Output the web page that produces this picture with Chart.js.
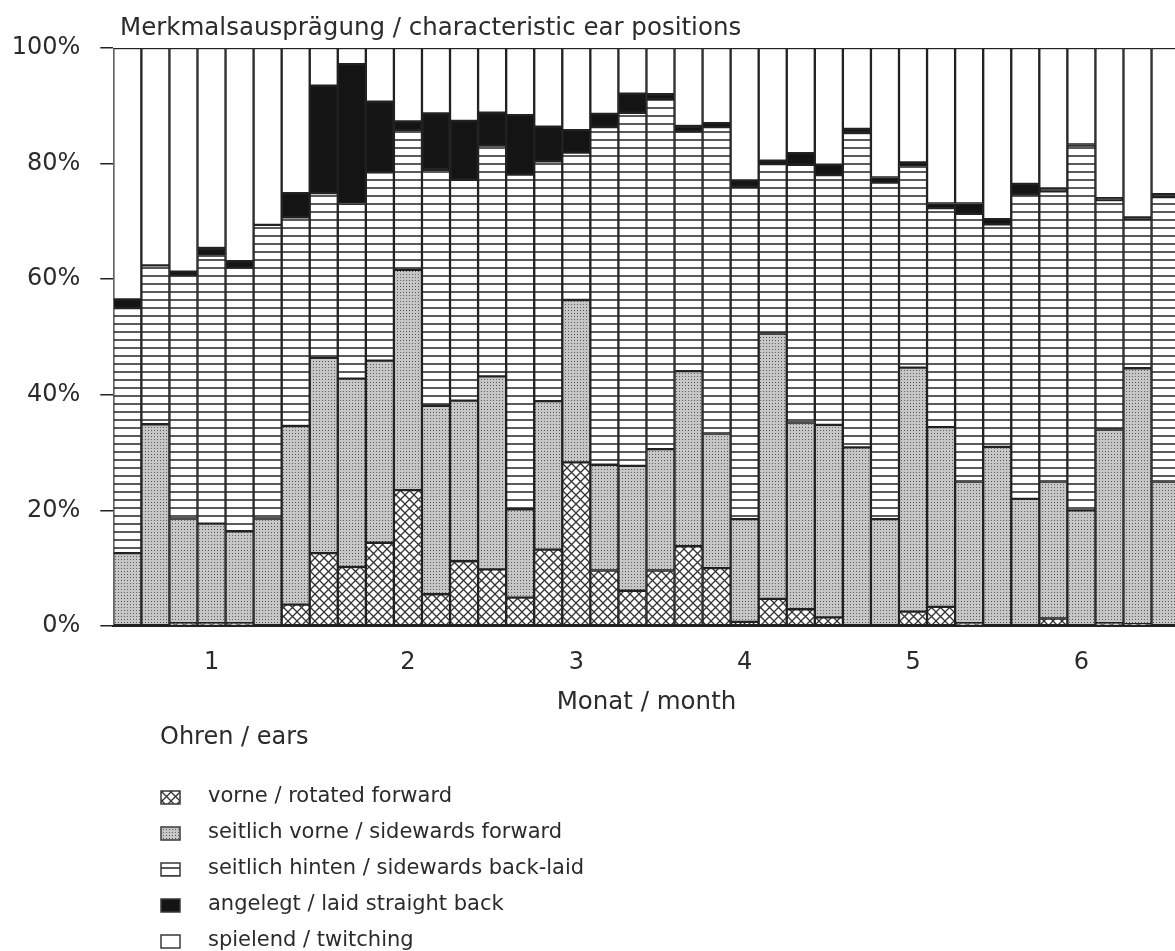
<!DOCTYPE html>
<html>
<head>
<meta charset="utf-8">
<title>Merkmalsausprägung Ohren</title>
<script src="https://cdn.jsdelivr.net/npm/chart.js@4.4.0/dist/chart.umd.min.js"></script>
<style>
  html, body { margin: 0; padding: 0; background: #fff; overflow: hidden; }
  #wrap { position: relative; width: 1200px; height: 951px; }
</style>
</head>
<body>
<div id="wrap"><canvas id="earChart"></canvas></div>
<script>
// Anteile je Woche (von unten nach oben gestapelt), in %
const vorne = [0, 0, 0.5, 0.5, 0.5, 0, 3.7, 12.6, 10.2, 14.4, 23.5, 5.5, 11.2, 9.8, 4.9, 13.2, 28.3, 9.6, 6.1, 9.6, 13.8, 10.0, 0.7, 4.7, 2.9, 1.5, 0, 0, 2.5, 3.3, 0.5, 0, 0, 1.3, 0, 0.5, 0.3, 0];
const seitlichVorne = [12.6, 34.9, 18.1, 17.2, 15.9, 18.6, 30.9, 33.8, 32.6, 31.5, 38.1, 32.6, 27.8, 33.4, 15.3, 25.7, 28.1, 18.3, 21.6, 21.0, 30.3, 23.3, 17.8, 45.9, 32.3, 33.3, 30.9, 18.5, 42.2, 31.1, 24.5, 31.0, 22.0, 23.7, 20.0, 33.5, 44.3, 25.0];
const seitlichHinten = [42.4, 27.5, 42.1, 46.4, 45.6, 50.8, 36.1, 28.5, 30.3, 32.6, 24.2, 40.8, 38.2, 39.9, 57.9, 41.5, 25.5, 58.4, 61.1, 60.6, 41.5, 53.0, 57.5, 29.3, 44.6, 43.2, 54.4, 58.2, 34.8, 37.9, 46.3, 38.5, 52.7, 50.2, 63.1, 39.7, 25.8, 49.2];
const angelegt = [1.5, 0, 0.6, 1.3, 1.1, 0, 4.2, 18.6, 24.1, 12.2, 1.5, 9.8, 10.2, 5.7, 10.3, 6.0, 3.9, 2.3, 3.3, 0.8, 0.9, 0.7, 1.1, 0.6, 2.0, 1.8, 0.7, 0.9, 0.7, 0.8, 1.8, 0.9, 1.8, 0.5, 0.2, 0.3, 0.3, 0.5];
const spielend = [43.5, 37.6, 38.7, 34.6, 36.9, 30.6, 25.1, 6.5, 2.8, 9.3, 12.7, 11.3, 12.6, 11.2, 11.6, 13.6, 14.2, 11.4, 7.9, 8.0, 13.5, 13.0, 22.9, 19.5, 18.2, 20.2, 14.0, 22.4, 19.8, 26.9, 26.9, 29.6, 23.5, 24.3, 16.7, 26.0, 29.3, 25.3];

// Monatsbeschriftung: Woche (Index) -> Monat
const monthTickWeek = [3, 10, 16, 22, 28, 34];
const monthTicks = ['1', '2', '3', '4', '5', '6'];
const weeks = vorne.map((_, i) => 'W' + (i + 1));

const seriesLabels = [
    'vorne / rotated forward',
    'seitlich vorne / sidewards forward',
    'seitlich hinten / sidewards back-laid',
    'angelegt / laid straight back',
    'spielend / twitching'
];

const TEXT = '#2b2b2b';
const LINE = '#222';
const FONT = '"DejaVu Sans", sans-serif';

function makePattern(w, h, draw) {
    const c = document.createElement('canvas');
    c.width = w; c.height = h;
    const g = c.getContext('2d');
    draw(g, w, h);
    return g.createPattern(c, 'repeat');
}

const crossPattern = makePattern(9, 9, (g, w, h) => {
    g.fillStyle = '#fff'; g.fillRect(0, 0, w, h);
    g.strokeStyle = '#333'; g.lineWidth = 1.3;
    g.beginPath();
    g.moveTo(-1, -1); g.lineTo(w + 1, h + 1);
    g.moveTo(w + 1, -1); g.lineTo(-1, h + 1);
    g.stroke();
});
const dotPattern = makePattern(3, 3, (g, w, h) => {
    g.fillStyle = '#c6c6c6'; g.fillRect(0, 0, w, h);
    g.fillStyle = '#5e5e5e'; g.fillRect(1, 1, 1, 1);
});
const linePattern = makePattern(4, 8, (g, w, h) => {
    g.fillStyle = '#fff'; g.fillRect(0, 0, w, h);
    g.fillStyle = '#5a5a5a'; g.fillRect(0, 3, w, 2);
});
const fills = [crossPattern, dotPattern, linePattern, '#141414', '#ffffff'];
const seriesData = [vorne, seitlichVorne, seitlichHinten, angelegt, spielend];

const titlePlugin = {
    id: 'topTitle',
    afterDraw(chart) {
        const ctx = chart.ctx;
        ctx.save();
        ctx.fillStyle = TEXT;
        ctx.font = '24.5px ' + FONT;
        ctx.textBaseline = 'middle';
        ctx.fillText('Merkmalsausprägung / characteristic ear positions', 120, 29);
        ctx.restore();
    }
};

const legendPlugin = {
    id: 'earLegend',
    afterDraw(chart) {
        const ctx = chart.ctx;
        ctx.save();
        ctx.fillStyle = TEXT;
        ctx.textBaseline = 'middle';
        ctx.font = '24px ' + FONT;
        ctx.fillText('Ohren / ears', 160, 738);
        ctx.font = '21px ' + FONT;
        chart.data.datasets.forEach((ds, i) => {
            const y = 797 + i * 36;
            ctx.fillStyle = ds.backgroundColor;
            ctx.fillRect(161, y - 6, 19, 13);
            ctx.strokeStyle = '#3a3a3a';
            ctx.lineWidth = 1.5;
            ctx.strokeRect(161, y - 6, 19, 13);
            ctx.fillStyle = TEXT;
            ctx.fillText(ds.label, 208, y);
        });
        ctx.restore();
    }
};

new Chart(document.getElementById('earChart'), {
    type: 'bar',
    data: {
        labels: weeks,
        datasets: seriesData.map((d, i) => ({
            label: seriesLabels[i],
            data: d,
            backgroundColor: fills[i],
            borderColor: LINE,
            borderWidth: 1.5,
            borderSkipped: false,
            categoryPercentage: 1,
            barPercentage: 1
        }))
    },
    options: {
        responsive: true,
        maintainAspectRatio: false,
        animation: false,
        devicePixelRatio: 1,
        layout: { padding: { top: 48, left: 0, right: 20.4, bottom: 234 } },
        plugins: { legend: { display: false }, tooltip: { enabled: false } },
        scales: {
            x: {
                stacked: true,
                grid: { display: false, drawTicks: false },
                border: { display: true, color: LINE, width: 2 },
                ticks: {
                    autoSkip: false, maxRotation: 0, padding: 22, color: TEXT,
                    font: { family: FONT, size: 24 },
                    callback: (v, i) => {
                        const k = monthTickWeek.indexOf(i);
                        return k >= 0 ? monthTicks[k] : '';
                    }
                },
                title: {
                    display: true, text: 'Monat / month', color: TEXT,
                    font: { family: FONT, size: 24.5 }, padding: { top: 13, bottom: 0 }
                },
                afterFit: s => { s.height = 91; }
            },
            y: {
                stacked: true,
                min: 0, max: 100,
                ticks: {
                    stepSize: 20, padding: 20, color: TEXT,
                    font: { family: FONT, size: 24 },
                    callback: v => v + '%'
                },
                grid: { drawOnChartArea: false, drawTicks: true, tickLength: 13, color: LINE, lineWidth: 1.5 },
                border: { display: false },
                afterFit: s => { s.width = 113.3; }
            }
        }
    },
    plugins: [titlePlugin, legendPlugin]
});
</script>
</body>
</html>
